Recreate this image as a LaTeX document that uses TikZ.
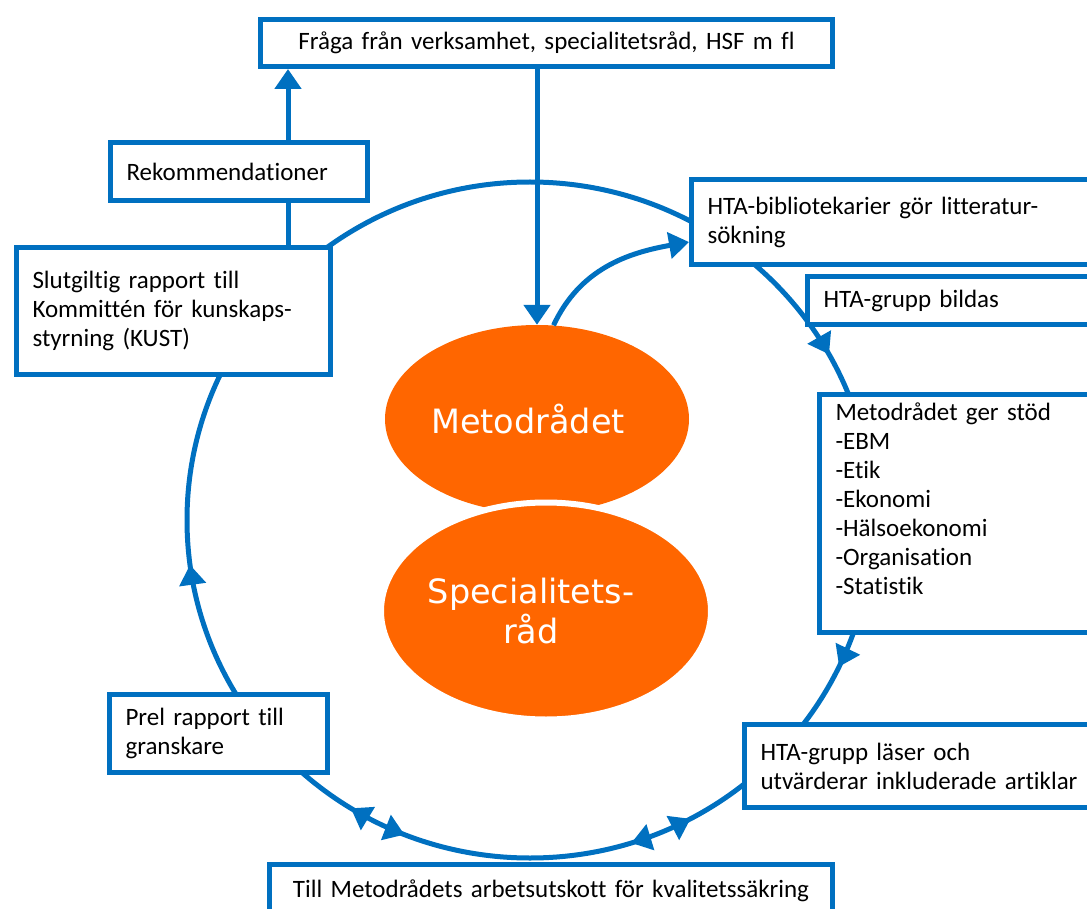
\documentclass[tikz,border=0pt]{standalone}
\usepackage{fontspec}
\setmainfont{Carlito}[Ligatures=CommonOff]
\newfontfamily\ovalfont{DejaVu Sans}
\usetikzlibrary{arrows.meta,shapes.geometric,decorations.markings}
\definecolor{hsfblue}{RGB}{0,112,192}
\definecolor{hsforange}{RGB}{255,102,0}

\begin{document}
\begin{tikzpicture}[
    x=1pt, y=1pt,
    >={Triangle[length=20pt,width=26pt]},
    box/.style={rectangle, draw=hsfblue, line width=5pt, fill=white, anchor=north west, inner xsep=16pt, inner ysep=4pt, align=left, font=\fontsize{25}{29}\selectfont},
    oval/.style={ellipse, fill=hsforange, text=white, inner sep=0pt, align=center, font=\ovalfont\fontsize{33.5}{40}\selectfont},
    ring/.style={hsfblue, line width=5pt},
    flow/.style={ring, ->}
  ]
    \useasboundingbox (0,0) rectangle (1087,-909);
    \clip (0,0) rectangle (1087,-909);

    % Cycle
    \draw[ring, postaction={decorate}, decoration={markings,
        mark=at position 0.081 with {\arrowreversed{>}},
        mark=at position 0.521 with {\arrowreversed{>}},
        mark=at position 0.662 with {\arrowreversed{>}},
        mark=at position 0.690 with {\arrow{>}},
        mark=at position 0.798 with {\arrowreversed{>}},
        mark=at position 0.828 with {\arrow{>}},
        mark=at position 0.929 with {\arrowreversed{>}}}]
      (530,-520) ellipse [x radius=343, y radius=338];

    % Centre
    \node[oval, minimum width=304pt, minimum height=188pt] (metod) at (537,-419) {\hspace*{-18pt}Metodrådet};
    \node[oval, draw=white, line width=6pt, minimum width=330pt, minimum height=217pt] (spec) at (546,-611) {\hspace*{-30pt}Specialitets-\\\hspace*{-30pt}råd};

    % Steps
    \node[box, text width=540pt, align=center, minimum height=47pt] (fraga) at (258,-17) {Fråga från verksamhet, specialitetsråd, HSF m fl};
    \node[box, text width=225pt, minimum height=58pt] (rekom) at (108,-140) {Rekommendationer};
    \node[box, text width=282pt, minimum height=127pt] (slut) at (14,-245) {Slutgiltig rapport till\\Kommittén för kunskaps-\\styrning (KUST)};
    \node[box, text width=420pt, minimum height=85pt] (bibl) at (689,-177) {HTA-bibliotekarier gör litteratur-\\sökning};
    \node[box, text width=300pt, minimum height=48pt] (bildas) at (805,-274) {HTA-grupp bildas};
    \node[box, text width=300pt, minimum height=238pt] (stod) at (817,-392) {Metodrådet ger stöd\\-EBM\\-Etik\\-Ekonomi\\-Hälsoekonomi\\-Organisation\\-Statistik\\\mbox{}};
    \node[box, text width=380pt, minimum height=83pt] (laser) at (742,-722) {HTA-grupp läser och\\utvärderar inkluderade artiklar};
    \node[box, text width=531pt, align=center, minimum height=52pt] (till) at (267,-862) {Till Metodrådets arbetsutskott för kvalitetssäkring};
    \node[box, text width=186pt, minimum height=78pt] (prel) at (107,-692) {Prel rapport till\\granskare};

    % Arrows
    \draw[flow] ([xshift=49pt]rekom.north) -- ([xshift=49pt]rekom.north |- fraga.south);
    \draw[ring] ([xshift=49pt]rekom.south |- slut.north) -- ([xshift=49pt]rekom.south);
    \draw[flow] (metod.north |- fraga.south) -- (metod.north);
    \draw[flow] (metod.80) to[out=65, in=190] ([yshift=-20pt]bibl.west);
  \end{tikzpicture}
\end{document}
